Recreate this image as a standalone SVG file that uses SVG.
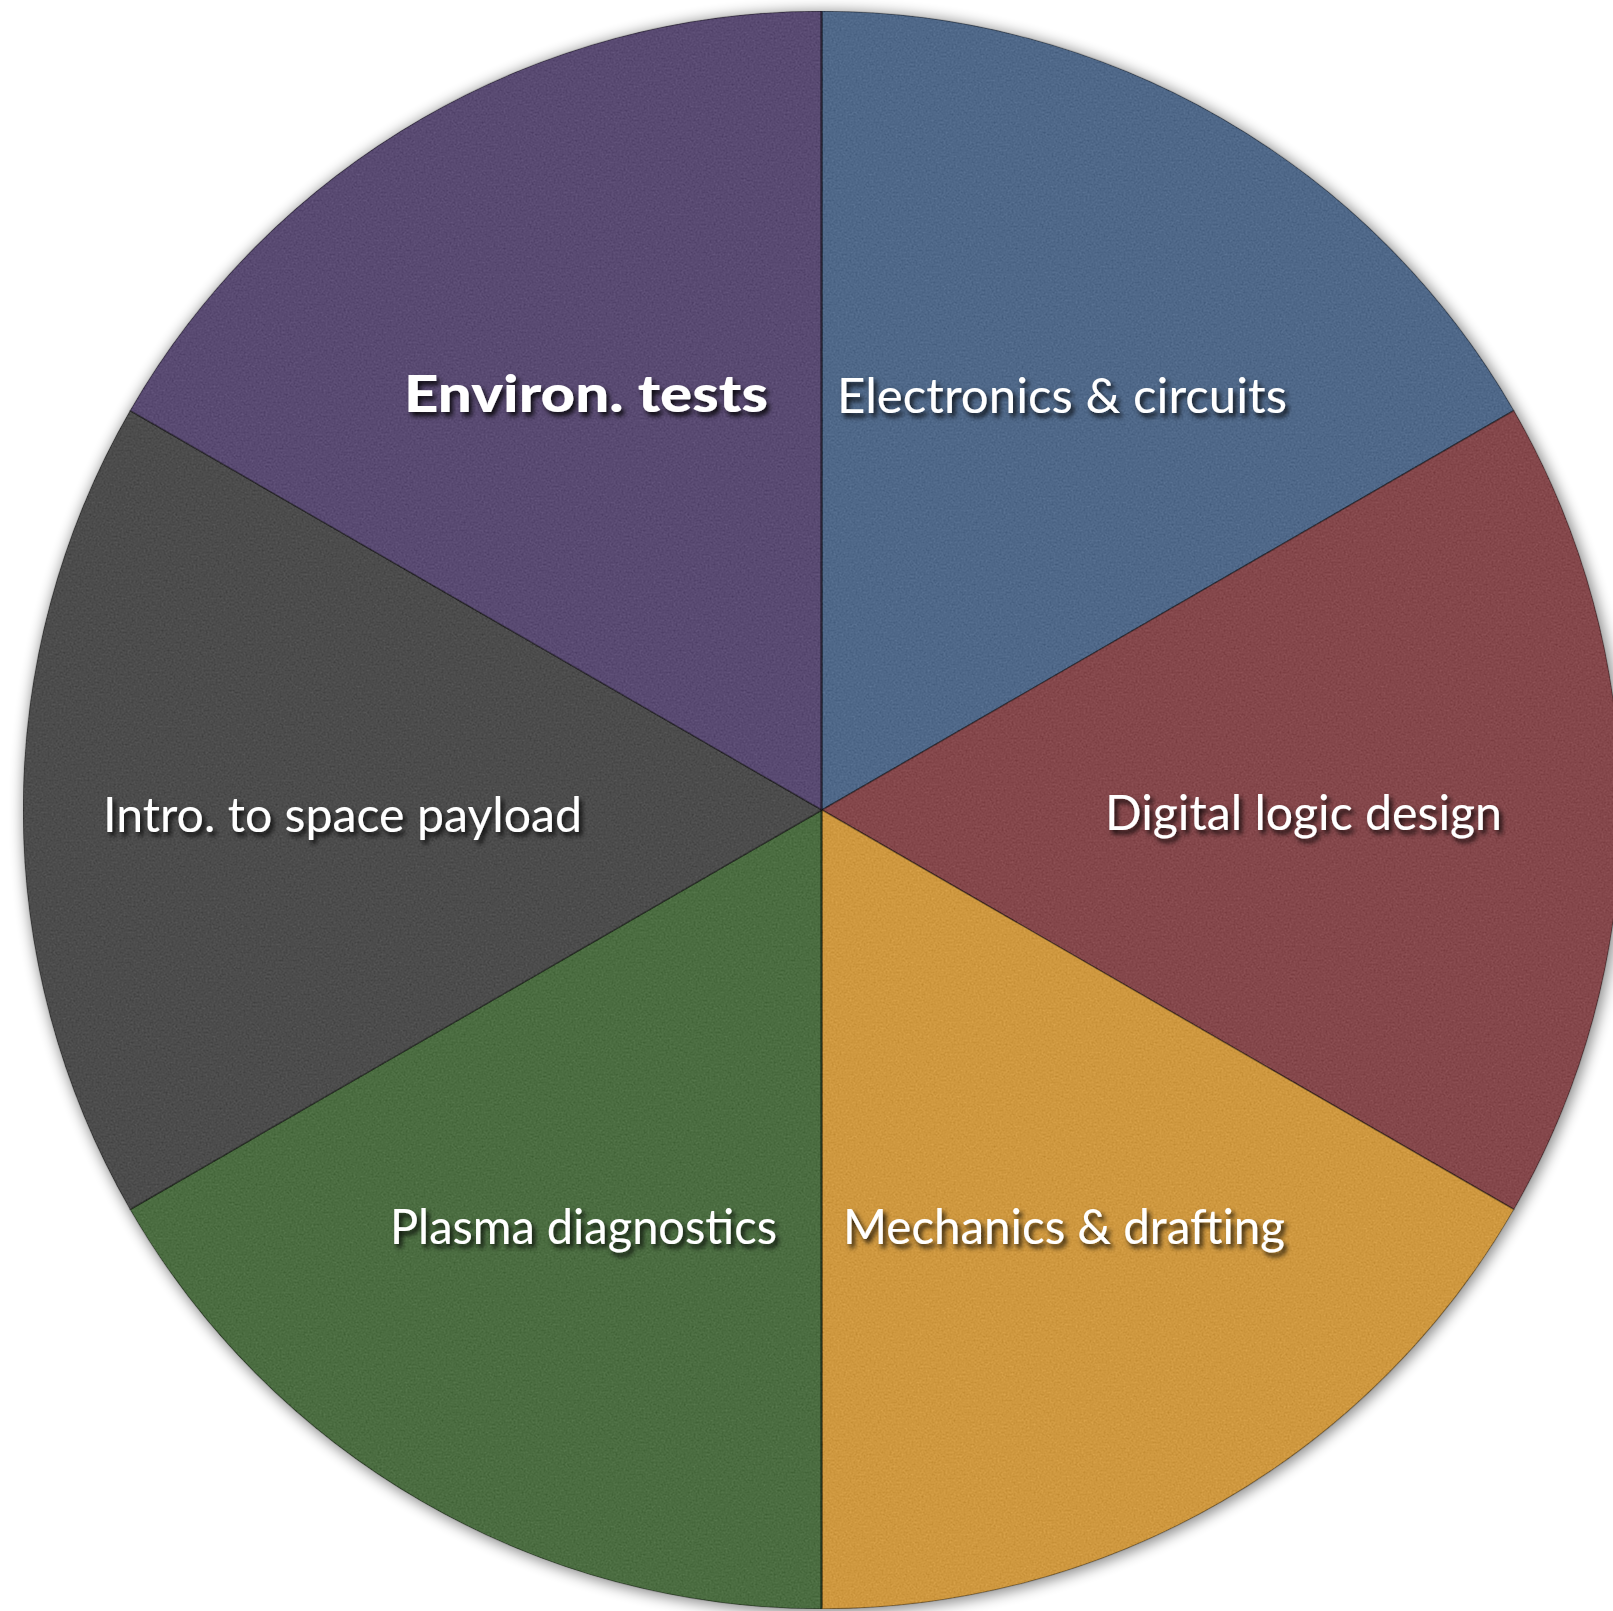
<svg xmlns="http://www.w3.org/2000/svg" width="1613" height="1611" viewBox="0 0 1613 1611">
  <defs>
    <filter id="outerShadow" x="-10%" y="-10%" width="120%" height="120%">
      <feGaussianBlur stdDeviation="7"/>
    </filter>
    <filter id="felt" x="0" y="0" width="100%" height="100%" color-interpolation-filters="sRGB">
      <feTurbulence type="fractalNoise" baseFrequency="0.5" numOctaves="3" seed="4" result="noise"/>
      <feColorMatrix in="noise" type="matrix" values="0.33 0.33 0.33 0 0  0.33 0.33 0.33 0 0  0.33 0.33 0.33 0 0  0 0 0 0 1" result="gray"/>
      <feComposite in="SourceGraphic" in2="gray" operator="arithmetic" k1="0" k2="1" k3="0.2" k4="-0.1" result="tex"/>
      <feComposite in="tex" in2="SourceGraphic" operator="in"/>
    </filter>
    <filter id="textShadow" x="-10%" y="-30%" width="120%" height="160%">
      <feDropShadow dx="3" dy="4" stdDeviation="2.5" flood-color="#000" flood-opacity="0.85"/>
    </filter>
  </defs>
  <style>
    .slice { stroke: rgba(0,0,0,0.35); stroke-width: 1.5; stroke-linejoin: round; }
    .label { font-family: "Lato", "Open Sans", "Liberation Sans", sans-serif; fill: #ffffff; font-size: 49px; filter: url(#textShadow); }
    text.bold { font-weight: 900; font-size: 51px; }
  </style>
  <rect width="1613" height="1611" fill="#ffffff"/>
  <circle cx="824" cy="812" r="801" fill="#000" opacity="0.45" filter="url(#outerShadow)"/>
  <g id="pie" filter="url(#felt)">
    <path class="slice" d="M822,810 L822,11 A799,799 0 0 1 1513.95,410.5 Z" fill="#4f6889"/>
    <path class="slice" d="M822,810 L1513.95,410.5 A799,799 0 0 1 1513.95,1209.5 Z" fill="#85474b"/>
    <path class="slice" d="M822,810 L1513.95,1209.5 A799,799 0 0 1 822,1609 Z" fill="#cf983f"/>
    <path class="slice" d="M822,810 L822,1609 A799,799 0 0 1 130.05,1209.5 Z" fill="#4b6d41"/>
    <path class="slice" d="M822,810 L130.05,1209.5 A799,799 0 0 1 130.05,410.5 Z" fill="#4c4c4c"/>
    <path class="slice" d="M822,810 L130.05,410.5 A799,799 0 0 1 822,11 Z" fill="#594a72"/>
  </g>
  <g id="seams" fill="none" stroke="#000" stroke-opacity="0.35" stroke-width="2">
    <line x1="821" y1="11" x2="821" y2="1609"/>
  </g>
  <g id="node-environ"><text class="label bold" x="404" y="412" textLength="364" lengthAdjust="spacingAndGlyphs">Environ. tests</text></g>
  <g id="node-electronics"><text class="label" x="837" y="413" textLength="450" lengthAdjust="spacingAndGlyphs">Electronics &amp; circuits</text></g>
  <g id="node-digital"><text class="label" x="1105" y="830" textLength="397" lengthAdjust="spacingAndGlyphs">Digital logic design</text></g>
  <g id="node-intro"><text class="label" x="103" y="832" textLength="479" lengthAdjust="spacingAndGlyphs">Intro. to space payload</text></g>
  <g id="node-plasma"><text class="label" x="390" y="1244" textLength="387" lengthAdjust="spacingAndGlyphs">Plasma diagnostics</text></g>
  <g id="node-mechanics"><text class="label" x="843" y="1244" textLength="442" lengthAdjust="spacingAndGlyphs">Mechanics &amp; drafting</text></g>
</svg>
